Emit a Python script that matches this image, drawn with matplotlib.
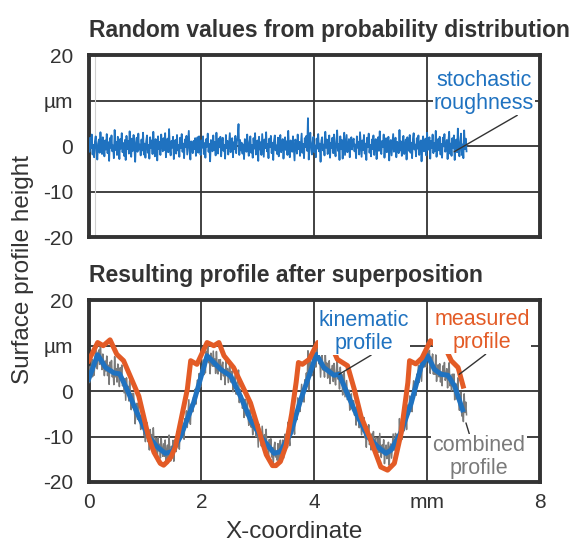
import numpy as np
import matplotlib
matplotlib.use("Agg")
import matplotlib.pyplot as plt

plt.rcParams['font.family'] = ['Liberation Sans', 'DejaVu Sans']

# stochastic roughness (µm), evenly spaced from 0 to 6.7 mm
roughness = [
    0.8, -1.2, 1.9, -0.4, 2.6, -1.8, 0.3, -2.4, 1.1, 2.2, -0.9, -2.9, 0.6, 1.5, -1.4, 3.1, -0.2, -1.7, 2.0, 0.4, -2.2, 1.3, -0.7, 2.7,
    -1.5, 0.9, -3.2, 1.8, -0.3, 2.4, -1.1, 0.2, -2.6, 3.6, -0.8, 1.0, -1.9, 2.1, 0.5, -2.8, 1.6, -0.5, 2.9, -1.3, 0.7, -2.1, 1.4, -3.0,
    2.3, -0.6, 1.2, -1.6, 3.3, 0.1, -2.3, 1.7, -1.0, 2.5, -0.2, -3.4, 0.9, 1.9, -1.2, 2.8, -0.7, 0.4, -2.0, 1.5, -0.9, 3.0, -1.8, 0.6,
    -2.5, 1.1, 2.4, -1.4, 0.3, -2.7, 2.0, -0.4, 1.3, -1.7, 3.2, -0.1, -2.2, 1.6, 0.8, -3.1, 2.2, -0.6, 1.0, -1.9, 2.6, 0.2, -1.1, 1.8,
    -0.8, 2.9, -2.4, 0.5, 1.7, -1.3, 3.8, -0.5, -2.0, 1.2, -0.3, 2.1, -2.8, 0.9, 1.4, -1.6, 2.5, -0.9, 0.3, -2.3, 1.9, -0.4, 2.7, -1.2,
    0.6, -2.6, 1.5, -0.2, 2.3, -1.8, 0.8, 3.4, -1.0, -2.9, 1.1, 0.4, -1.5, 1.2, -0.6, 1.8, -2.1, 0.2, 2.0, -1.4, 2.2, -0.7, -1.9, 1.3,
    -0.3, 2.2, -1.7, 0.7, -2.5, 1.6, -0.1, 2.8, -1.2, 0.5, -3.3, 1.4, 0.0, -1.1, 2.4, -0.8, 1.0, -2.0, 3.0, -0.5, -1.6, 1.7, -0.2, 2.1,
    -2.2, 0.8, 1.9, -1.0, 0.3, -2.7, 2.5, -0.4, 1.2, -1.8, 0.6, 2.9, -1.3, -0.1, 1.8, -2.4, 0.9, -0.6, 2.3, -1.5, 1.1, 2.0, 4.9, -1.9,
    1.4, -0.9, 0.8, -1.6, 0.4, -2.8, 1.6, 0.7, -1.2, 2.6, -0.3, -2.1, 1.0, 2.2, -1.4, 0.3, -2.5, 1.8, -0.5, 2.9, -1.8, 0.6, 1.3, -3.2,
    2.1, -0.7, 0.9, -1.9, 2.7, 0.1, -2.3, 1.5, -0.4, 3.1, -1.1, 0.5, -2.6, 1.7, -0.2, 2.3, -1.5, 0.8, -3.0, 1.2, 2.4, -0.9, 0.2, -1.7,
    1.9, -2.2, 0.7, 2.5, -1.3, -0.1, 1.6, -2.7, 0.4, 2.0, -0.8, 1.1, -1.9, 3.4, -0.5, -2.4, 1.3, 0.6, -1.2, 2.2, -0.3, -3.1, 1.5, 0.9,
    -1.6, 2.6, -0.6, 1.0, -2.1, 0.3, 2.8, -1.4, 0.5, -2.6, 1.8, -0.2, 2.3, -1.0, 6.2, -2.9, 1.4, 3.0, -0.7, -1.8, 0.9, 2.1, -1.3, 0.2,
    -2.4, 1.7, -0.5, 2.7, -1.1, 0.6, -3.4, 1.2, 2.0, -0.9, 0.4, -2.0, 3.2, -0.3, 1.5, -1.7, 0.1, 2.4, -2.5, 0.8, -0.4, 1.9, -1.5, 2.6,
    -0.8, -2.2, 1.1, 3.5, -1.0, 0.5, -3.0, 2.2, -0.6, 1.4, -2.7, 0.7, 3.0, -1.9, 0.2, 2.5, -1.3, -0.2, 1.6, -2.4, 0.9, 2.0, -0.7, 1.2,
    1.7, -1.1, 0.4, -2.6, 2.2, -0.3, 1.0, -1.8, 3.1, 0.2, -2.3, 1.3, -0.8, 2.5, -1.6, 0.6, -3.0, 1.9, -0.2, 2.8, -1.4, 0.3, -2.2, 1.5,
    -0.6, 2.4, -1.9, 0.9, 1.6, -2.8, 0.1, 2.0, -1.0, 3.3, -0.5, -1.7, 1.2, -0.1, 2.6, -2.5, 0.7, 1.8, -1.3, -0.4, 2.1, -3.1, 0.8, 1.4,
    -2.0, 0.5, 2.7, -1.2, -0.2, 1.9, -2.4, 1.0, 0.3, -1.5, 3.6, -0.9, 1.1, -2.1, 0.6, 2.3, -1.7, -0.3, 1.5, -2.9, 2.0, 0.1, -1.0, 2.5,
    -1.4, 0.8, -2.6, 1.6, 2.9, -0.7, 0.4, -2.2, 1.8, -0.5, 2.4, -1.9, 0.2, 1.3, -3.3, 0.9, 2.2, -1.1, -0.6, 1.7, -2.0, 3.0, -0.8, 0.5,
    2.0, -2.7, 1.2, -0.4, 2.6, -1.5, 0.7, -1.0, 3.4, -2.3, 0.3, 1.6, -0.9, 2.1, -1.8, 0.5, -2.5, 1.9, 0.0, 2.7, -1.2, -0.5, 1.4, -2.8,
    1.0, 3.2, -1.6, 0.6, -2.1, 1.8, -0.3, 2.4, -3.0, 0.9, 1.5, -1.3, 3.9, -0.7, -2.2, 1.1, 2.8, -1.9, 0.4, -2.6, 3.5, -0.6, 1.7, -1.1,
]
rough_x = np.linspace(0, 6.7, len(roughness))

# kinematic profile (mm, µm)
kin_x = [0.0, 0.16, 0.30, 0.45, 0.55, 0.68, 0.86, 1.06, 1.21, 1.36, 1.48, 1.63, 1.86,
         2.10, 2.34, 2.52, 2.69, 2.87, 3.05, 3.29, 3.40, 3.58, 3.76,
         4.04, 4.17, 4.35, 4.44, 4.53, 4.71, 4.95, 5.12, 5.27, 5.36, 5.54, 5.72, 5.89,
         6.01, 6.13, 6.25, 6.37, 6.49, 6.63]
kin_y = [2.6, 8.0, 5.2, 4.0, 3.8, 0.4, -4.8, -10.0, -12.2, -13.7, -13.3, -10.0, -2.6,
         7.8, 4.8, 3.3, -1.1, -6.3, -10.0, -13.7, -13.3, -9.3, -1.9,
         8.1, 5.2, 3.5, 3.7, 1.1, -4.1, -10.0, -12.2, -13.7, -13.0, -9.0, -2.6, 5.2,
         7.8, 4.8, 3.7, 3.5, 1.1, -4.1]

# measured profile (mm, µm)
meas_x = [0.0, 0.16, 0.26, 0.38, 0.50, 0.62, 0.89, 1.06, 1.16, 1.27, 1.33, 1.39, 1.46, 1.54, 1.75, 1.81, 1.92,
          2.10, 2.22, 2.31, 2.40, 2.57, 2.87, 3.05, 3.15, 3.26, 3.32, 3.40, 3.50, 3.60, 3.68, 3.72, 3.79, 3.91,
          4.06, 4.14, 4.29, 4.41, 4.59, 4.71, 4.83, 5.00, 5.18, 5.30, 5.42, 5.54, 5.66, 5.69, 5.80, 5.91,
          6.06, 6.16, 6.28, 6.43, 6.55, 6.64]
meas_y = [6.7, 10.7, 10.0, 11.3, 8.1, 6.7, -1.1, -10.0, -13.5, -15.9, -16.3, -15.6, -14.5, -12.2, 0.4, 6.7, 5.9,
          10.7, 10.0, 10.7, 7.8, 5.2, -2.6, -10.0, -14.0, -16.4, -16.4, -15.5, -12.0, -5.0, 2.0, 6.3, 5.9, 7.0,
          10.7, 9.6, 10.4, 7.0, 5.6, 0.4, -5.6, -10.7, -16.7, -17.4, -15.9, -9.3, 1.9, 6.7, 6.0, 7.3,
          11.1, 10.0, 10.7, 6.7, 5.2, 1.1]

y_ticks = [-20, -10, 0, 10, 20]
y_labels = ['-20', '-10', '0', 'µm', '20']
x_ticks = [0, 2, 4, 6, 8]
x_labels = ['0', '2', '4', 'mm', '8']

combined = np.interp(rough_x, kin_x, kin_y) + np.array(roughness)

dark = '#333333'
blue = '#1f72c0'
orange = '#e35b26'
gray = '#7a7a7a'

fig = plt.figure(figsize=(5.83, 5.44), dpi=100)
ax1 = fig.add_axes([0.152, 0.564, 0.774, 0.334])
ax2 = fig.add_axes([0.152, 0.114, 0.774, 0.334])

for ax in (ax1, ax2):
    ax.set_xlim(0, 8)
    ax.set_ylim(-20, 20)
    ax.set_xticks(x_ticks)
    ax.set_yticks(y_ticks)
    ax.set_yticklabels(y_labels)
    ax.grid(True, color=dark, lw=1.3)
    ax.set_axisbelow(True)
    ax.tick_params(length=0, labelsize=15, labelcolor=dark, pad=11)
    for sp in ax.spines.values():
        sp.set_linewidth(2.8)
        sp.set_color(dark)

ax1.set_xticklabels([])
ax2.set_xticklabels(x_labels)
ax2.tick_params(axis='x', pad=8)

ann = dict(ha='center', va='center', fontsize=15.5, linespacing=1.12)
box = dict(boxstyle='square,pad=0.05', fc='white', ec='none')

# top panel
ax1.axvline(0.12, color='#d0d0d0', lw=0.8, zorder=1)
ax1.plot(rough_x, roughness, color=blue, lw=1.3, zorder=3)
ax1.set_title('Random values from probability distribution', loc='left',
              fontsize=16.5, fontweight='bold', color=dark, pad=13)
ax1.annotate('stochastic\nroughness', xy=(6.48, -1.2), xytext=(7.01, 11.9), color=blue,
             bbox=box, arrowprops=dict(arrowstyle='-', color=dark, lw=1.0, shrinkA=0,
                                       shrinkB=0, relpos=(0.85, 0.0)), **ann)

# bottom panel
ax2.plot(rough_x, combined, color=gray, lw=1.1, zorder=3)
ax2.plot(kin_x, kin_y, color=blue, lw=3.6, zorder=4, solid_joinstyle='round')
ax2.plot(meas_x, meas_y, color=orange, lw=3.6, zorder=5, solid_joinstyle='round')
ax2.set_title('Resulting profile after superposition', loc='left',
              fontsize=16.5, fontweight='bold', color=dark, pad=13)

ax2.annotate('kinematic\nprofile', xy=(4.44, 3.7), xytext=(4.88, 13.0), color=blue,
             bbox=box, arrowprops=dict(arrowstyle='-', color=dark, lw=1.0, shrinkA=0,
                                       shrinkB=0, relpos=(0.6, 0.0)), zorder=6, **ann)
ax2.annotate('measured\nprofile', xy=(6.57, 3.7), xytext=(6.98, 13.2), color=orange,
             bbox=box, arrowprops=dict(arrowstyle='-', color=dark, lw=1.0, shrinkA=0,
                                       shrinkB=0, relpos=(0.55, 0.0)), zorder=6, **ann)
ax2.annotate('combined\nprofile', xy=(6.69, -7.0), xytext=(6.92, -14.5), color=gray,
             bbox=box, arrowprops=dict(arrowstyle='-', color=dark, lw=1.0, shrinkA=0,
                                       shrinkB=0, relpos=(0.4, 1.0)), zorder=6, **ann)

ax2.set_xlabel('X-coordinate', fontsize=17.5, color=dark)
ax2.xaxis.set_label_coords(0.455, -0.215)
fig.text(0.04, 0.505, 'Surface profile height', rotation=90, fontsize=17.5,
         color=dark, ha='center', va='center')

fig.savefig('out.png', dpi=100)
